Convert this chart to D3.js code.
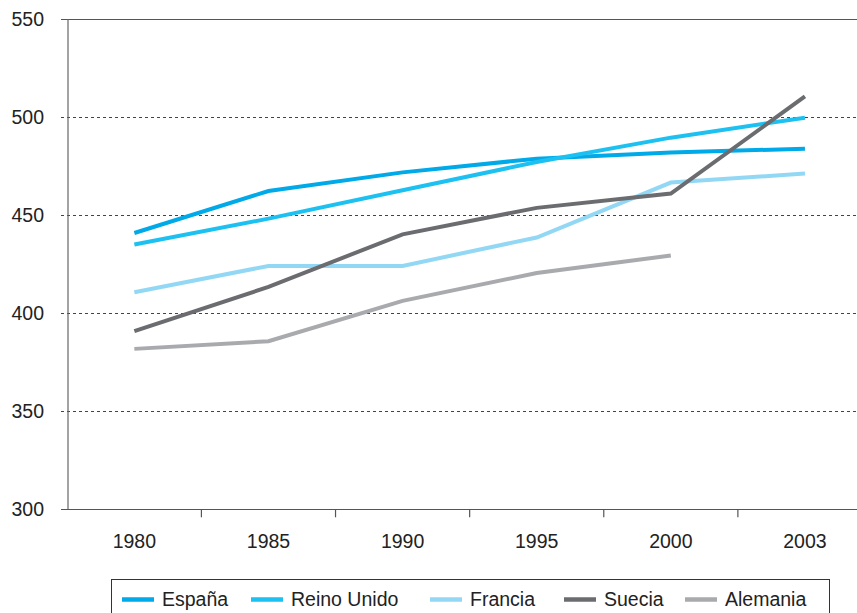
<!DOCTYPE html>
<html>
<head>
<meta charset="utf-8">
<script src="https://cdn.jsdelivr.net/npm/d3@7"></script>
<style>
  html, body { margin: 0; padding: 0; background: #fff; }
  svg { display: block; font-family: "Liberation Sans", Arial, Helvetica, sans-serif; }
</style>
</head>
<body>
<svg id="chart" width="857" height="613"></svg>
<script>
// Años (categorías del eje X)
const years = ["1980", "1985", "1990", "1995", "2000", "2003"];

// Puntuaciones por país
const espana     = [440.9, 462.3, 471.8, 478.8, 481.9, 483.9];
const reinoUnido = [435.0, 448.2, 462.7, 477.1, 489.5, 499.7];
const francia    = [410.7, 424.1, 424.1, 438.6, 466.6, 471.2];
const suecia     = [390.8, 413.4, 440.2, 453.7, 461.0, 510.5];
const alemania   = [381.8, 385.7, 406.3, 420.5, 429.4, null];

// Marcas del eje Y
const yTicks = [300, 350, 400, 450, 500, 550];

const series = [
  { name: "España",      values: espana,     color: "#00a9e8" },
  { name: "Reino Unido", values: reinoUnido, color: "#1dc1f1" },
  { name: "Francia",     values: francia,    color: "#92d8f5" },
  { name: "Suecia",      values: suecia,     color: "#6b6c6f" },
  { name: "Alemania",    values: alemania,   color: "#a9aaad" }
];

const svg = d3.select("#chart");

const plot = { left: 68, right: 872, top: 19, bottom: 509.3 };

const x = d3.scaleBand().domain(years).range([plot.left - 0.7, plot.right]).padding(0);
const y = d3.scaleLinear().domain([300, 550]).range([plot.bottom, plot.top]);

// Líneas horizontales de referencia
const grid = svg.append("g");
yTicks.forEach(t => {
  const solid = (t === 300 || t === 550);
  grid.append("line")
    .attr("x1", plot.left - 7).attr("x2", 857)
    .attr("y1", y(t)).attr("y2", y(t))
    .attr("stroke", solid ? "#555" : "#444")
    .attr("stroke-width", 1)
    .attr("stroke-dasharray", solid ? null : "3,3")
    .attr("shape-rendering", "crispEdges");
});

// Eje Y: etiquetas
const yAxis = d3.axisLeft(y).tickValues(yTicks).tickSize(0).tickPadding(0);
const gy = svg.append("g")
  .attr("transform", `translate(44,0)`)
  .call(yAxis);
gy.select(".domain").remove();
gy.selectAll("text")
  .attr("font-size", "19.5px")
  .attr("fill", "#222")
  .attr("font-family", "Liberation Sans, Arial, sans-serif")
  .attr("x", 0);

// Línea vertical del eje Y
svg.append("line")
  .attr("x1", plot.left).attr("x2", plot.left)
  .attr("y1", y(550)).attr("y2", y(300))
  .attr("stroke", "#666").attr("stroke-width", 1.2);

// Eje X: marcas entre categorías y etiquetas centradas
const xAxis = d3.axisBottom(x).tickSize(0).tickPadding(0);
const gx = svg.append("g")
  .attr("transform", `translate(0,${plot.bottom})`)
  .call(xAxis);
gx.select(".domain").remove();
gx.selectAll("text")
  .attr("font-size", "19.5px")
  .attr("fill", "#222")
  .attr("font-family", "Liberation Sans, Arial, sans-serif")
  .attr("dy", null)
  .attr("y", 39);

years.slice(1).forEach(yr => {
  svg.append("line")
    .attr("x1", x(yr)).attr("x2", x(yr))
    .attr("y1", plot.bottom).attr("y2", plot.bottom + 8)
    .attr("stroke", "#555").attr("stroke-width", 1.2);
});

// Series
const line = d3.line()
  .defined(d => d != null)
  .x((d, i) => x(years[i]) + x.bandwidth() / 2)
  .y(d => y(d));

series.forEach(s => {
  svg.append("path")
    .datum(s.values)
    .attr("d", line)
    .attr("fill", "none")
    .attr("stroke", s.color)
    .attr("stroke-width", 4)
    .attr("stroke-linejoin", "miter");
});

// Leyenda
svg.append("rect")
  .attr("x", 111.5).attr("y", 579.5)
  .attr("width", 718).attr("height", 50)
  .attr("fill", "none")
  .attr("stroke", "#333").attr("stroke-width", 1);

const legendX = [122, 251, 430, 564, 685];
series.forEach((s, i) => {
  const g = svg.append("g").attr("transform", `translate(${legendX[i]},599.5)`);
  g.append("line")
    .attr("x1", 0).attr("x2", 32)
    .attr("y1", 0).attr("y2", 0)
    .attr("stroke", s.color).attr("stroke-width", 4.5);
  g.append("text")
    .attr("x", 40).attr("y", 0)
    .attr("dy", "0.35em")
    .attr("font-size", "19.5px")
    .attr("fill", "#222")
    .text(s.name);
});
</script>
</body>
</html>
